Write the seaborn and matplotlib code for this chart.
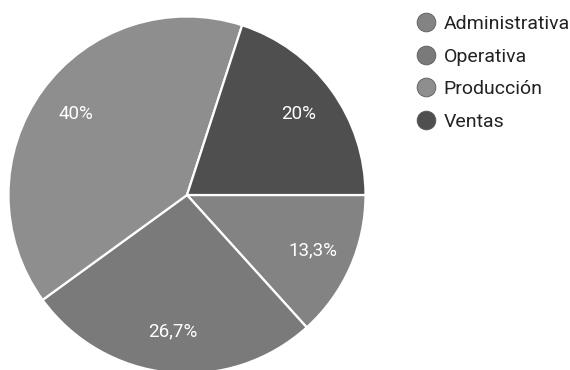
import matplotlib
matplotlib.use("Agg")
import matplotlib.pyplot as plt
from matplotlib.lines import Line2D
import numpy as np
import seaborn as sns

categories = ["Administrativa", "Operativa", "Producción", "Ventas"]
values = [13.3, 26.7, 40.0, 20.0]
pct_labels = ["13,3%", "26,7%", "40%", "20%"]
colors = ["#838383", "#7a7a7a", "#8e8e8e", "#4f4f4f"]

sns.set_theme(style="white")
plt.rcParams["font.family"] = ["Roboto", "DejaVu Sans"]

fig = plt.figure(figsize=(5.7, 3.7), dpi=100)
fig.patch.set_facecolor("white")
R = 178.5
cx, cy = 187.0, 195.0
ax = fig.add_axes([(cx - R) / 570, (370 - cy - R) / 370, 2 * R / 570, 2 * R / 370])

wedges, texts = ax.pie(values, colors=colors, startangle=0, counterclock=False,
                       radius=1.0,
                       wedgeprops=dict(edgecolor="white", linewidth=1.6))
for w, lab in zip(wedges, pct_labels):
    ang = np.deg2rad((w.theta1 + w.theta2) / 2)
    r = 0.77
    ax.text(r * np.cos(ang), r * np.sin(ang), lab, ha="center", va="center",
            color="white", fontsize=13.5)
ax.set_xlim(-1, 1)
ax.set_ylim(-1, 1)
ax.set_aspect("auto")
ax.axis("off")

handles = [Line2D([], [], marker="o", linestyle="", markersize=13.5,
                  markerfacecolor=c, markeredgecolor="#5a5a5a", markeredgewidth=0.6)
           for c in colors]
fig.legend(handles, categories, loc="upper left", bbox_to_anchor=(414 / 570, 1 - 15 / 370),
           frameon=False, fontsize=14, labelspacing=0.75, handletextpad=0.33,
           handlelength=1.2, borderaxespad=0, borderpad=0, labelcolor="#222222")

fig.savefig("out.png", dpi=100, facecolor="white")
